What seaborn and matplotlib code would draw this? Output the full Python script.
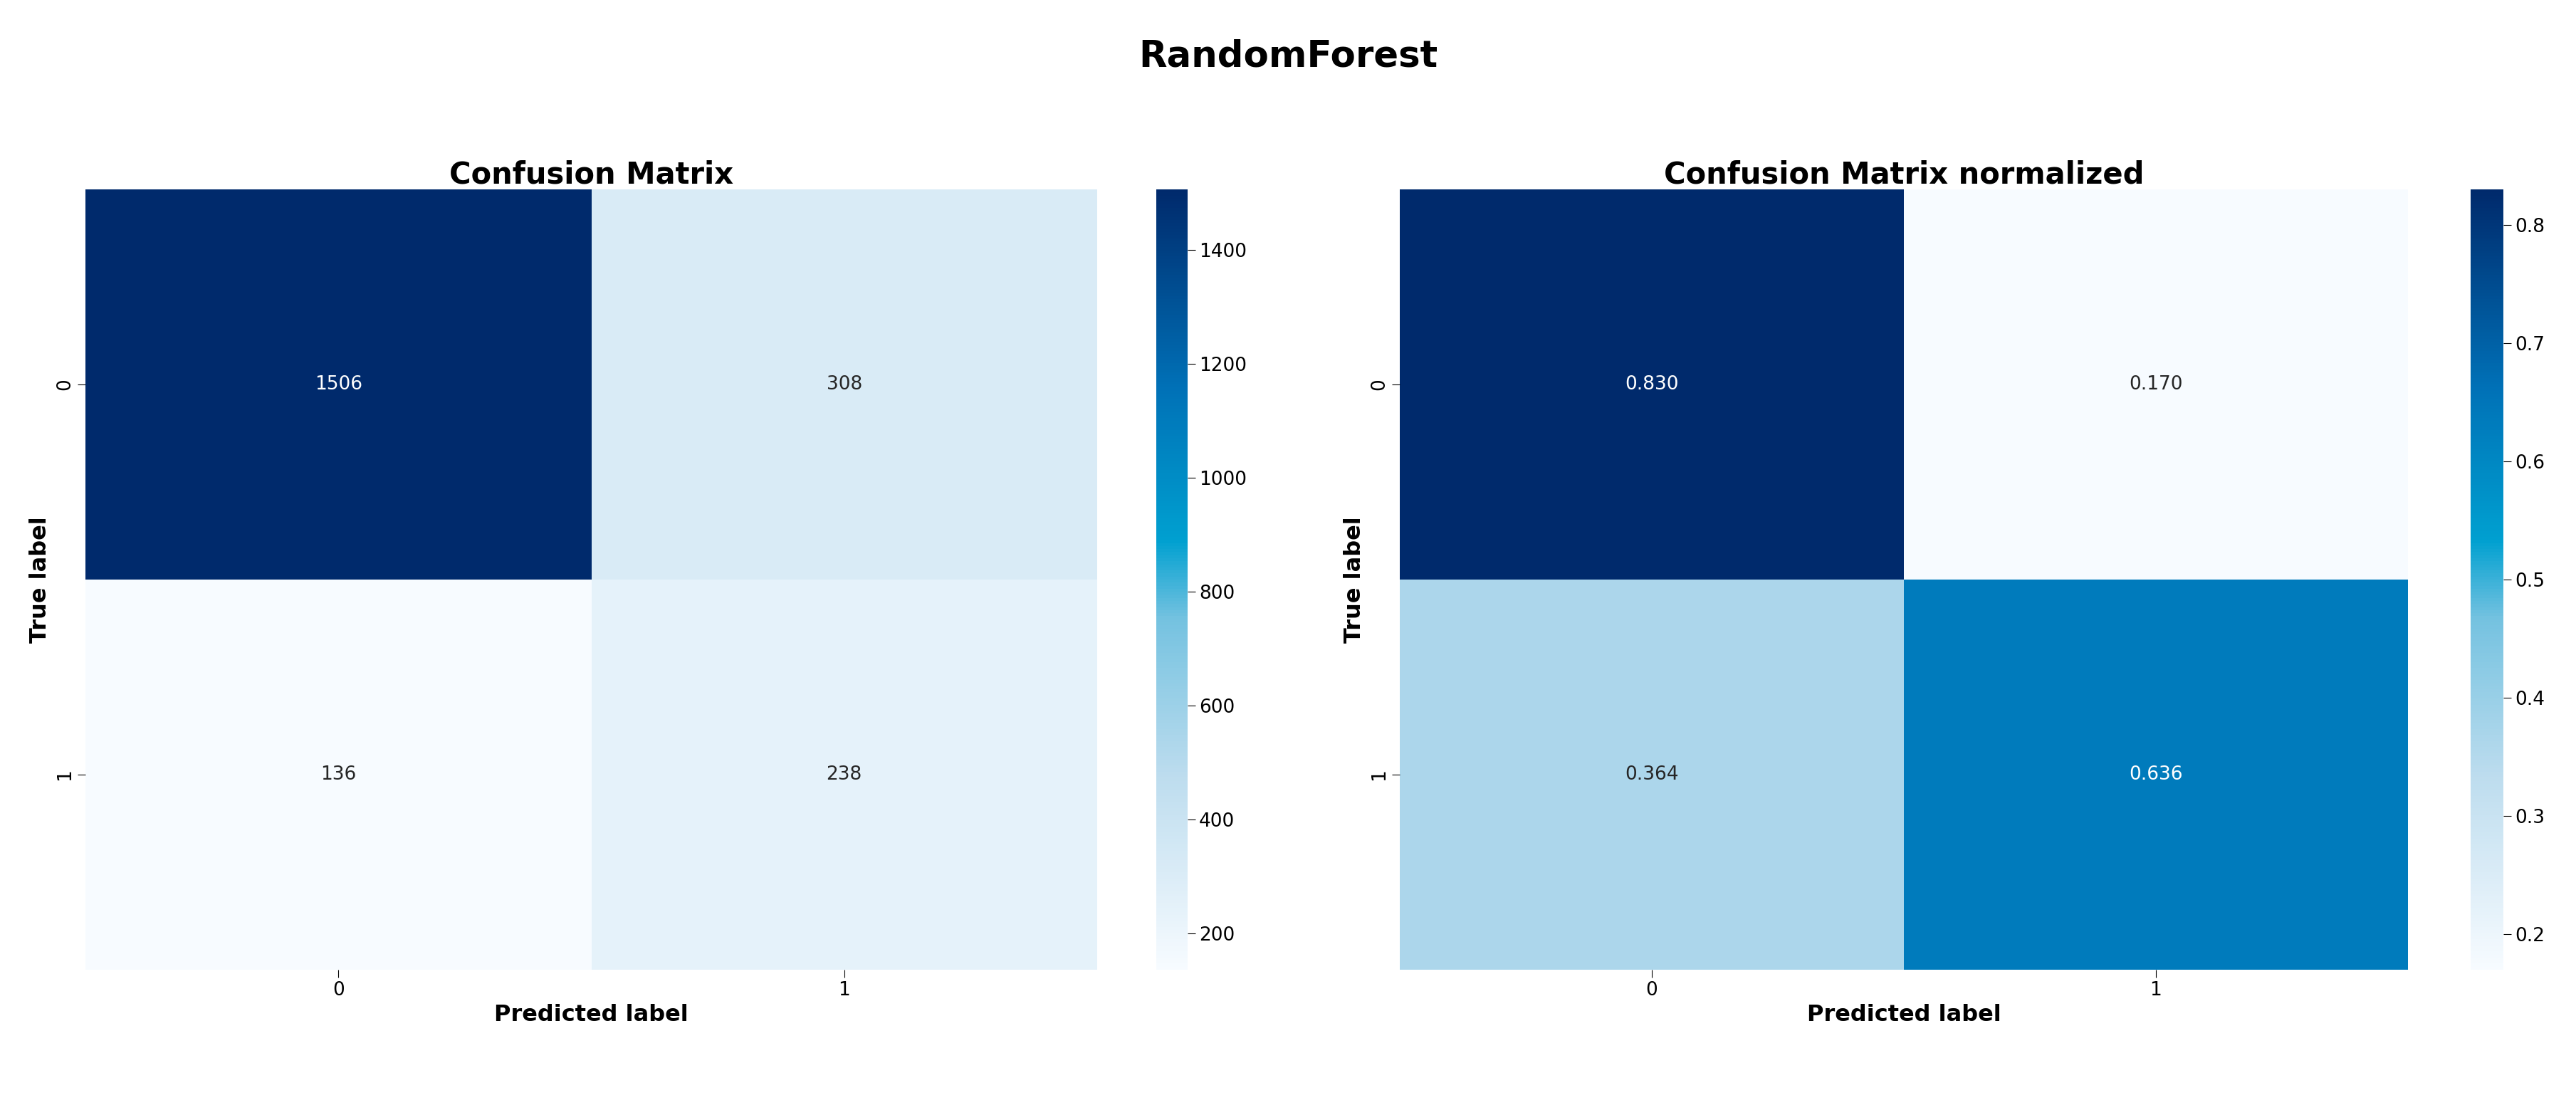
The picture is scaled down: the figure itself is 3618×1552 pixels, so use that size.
import numpy as np
import matplotlib
matplotlib.use("Agg")
import matplotlib.pyplot as plt
import seaborn as sns
from matplotlib.colors import LinearSegmentedColormap

labels = ["0", "1"]
cm_counts = np.array([[1506, 308], [136, 238]])
cm_norm = np.array([[0.830, 0.170], [0.364, 0.636]])

cmap = LinearSegmentedColormap.from_list("cb", [
    (0.0, "#f7fbff"), (0.25, "#bcdcee"), (0.45, "#74c2e0"),
    (0.55, "#00a0d0"), (0.75, "#0070b6"), (1.0, "#002a6c")])

W, H = 3618, 1552
fig = plt.figure(figsize=(W/100, H/100), dpi=100)
def box(x0, y0, x1, y1):
    return [x0/W, 1-y1/H, (x1-x0)/W, (y1-y0)/H]

ax1 = fig.add_axes(box(120, 266, 1541, 1362))
cax1 = fig.add_axes(box(1624, 266, 1668, 1362))
ax2 = fig.add_axes(box(1966, 266, 3382, 1362))
cax2 = fig.add_axes(box(3470, 266, 3516, 1362))

sns.heatmap(cm_counts, annot=True, fmt="d", cmap=cmap, ax=ax1, cbar_ax=cax1,
            xticklabels=labels, yticklabels=labels, annot_kws={"size": 19})
sns.heatmap(cm_norm, annot=True, fmt=".3f", cmap=cmap, ax=ax2, cbar_ax=cax2,
            xticklabels=labels, yticklabels=labels, annot_kws={"size": 19})

for ax, t in [(ax1, "Confusion Matrix"), (ax2, "Confusion Matrix normalized")]:
    ax.set_title(t, fontsize=30, fontweight="bold")
    ax.set_xlabel("Predicted label", fontsize=23, fontweight="bold")
    ax.set_ylabel("True label", fontsize=23, fontweight="bold")
    ax.tick_params(labelsize=19, length=8)
for c in (cax1, cax2):
    c.tick_params(labelsize=19, length=8)

fig.suptitle("RandomForest", fontsize=37, fontweight="bold", y=0.965)
fig.savefig("out.png", dpi=100)
